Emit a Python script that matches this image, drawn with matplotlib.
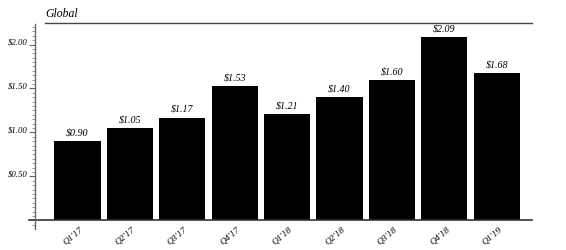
import matplotlib.pyplot as plt
from matplotlib.lines import Line2D
from matplotlib.ticker import MultipleLocator

quarters = ["Q1'17", "Q2'17", "Q3'17", "Q4'17", "Q1'18", "Q2'18", "Q3'18", "Q4'18", "Q1'19"]
values = [0.90, 1.05, 1.17, 1.53, 1.21, 1.40, 1.60, 2.09, 1.68]
y_ticks = [0.5, 1.0, 1.5, 2.0]
title = "Global"

FONT = "Liberation Serif"


def main():
    fig = plt.figure(figsize=(5.66, 2.5), dpi=100)
    ax = fig.add_axes([0.0618, 0.084, 0.878, 0.82])

    xs = list(range(len(quarters)))
    ax.bar(xs, values, width=0.88, color="black", linewidth=0)

    for x, v in zip(xs, values):
        ax.annotate(f"${v:.2f}", (x, v), xytext=(0, 2), textcoords="offset points",
                    ha="center", va="bottom", fontsize=7.2, fontstyle="italic",
                    family=FONT, color="black")

    ax.set_xlim(-0.81, 8.67)
    ax.set_ylim(-0.097, 2.233)

    for side in ["top", "right", "bottom"]:
        ax.spines[side].set_visible(False)
    ax.spines["left"].set_color("#666666")
    ax.spines["left"].set_linewidth(1.0)

    ax.axhline(0, xmin=-0.012, xmax=1, color="#333333", linewidth=1.2, clip_on=False)

    ax.set_xticks([])
    ax.set_yticks(y_ticks)
    ax.set_yticklabels([f"${t:.2f}" for t in y_ticks], fontsize=6.3, fontstyle="italic",
                       family=FONT, color="black", va="baseline")
    ax.yaxis.set_minor_locator(MultipleLocator(0.05))
    ax.tick_params(axis="y", which="major", length=4, width=0.8, color="#666666", pad=1)
    ax.tick_params(axis="y", which="minor", length=2.5, width=0.6, color="#888888")

    for x, q in zip(xs, quarters):
        ax.text(x - 0.09, -0.17, q, rotation=40, ha="center", va="center",
                fontsize=6.8, fontstyle="italic", family=FONT, color="black",
                clip_on=False)

    # title and the rule under it
    fig.text(45 / 566, 1 - 14 / 250, title, fontsize=8.5, fontstyle="italic",
             family=FONT, color="black", va="center", ha="left")
    fig.add_artist(Line2D([45 / 566, 532 / 566], [1 - 23 / 250, 1 - 23 / 250],
                          color="#444444", linewidth=1.0))

    fig.savefig("out.png", dpi=100)


if __name__ == "__main__":
    main()
